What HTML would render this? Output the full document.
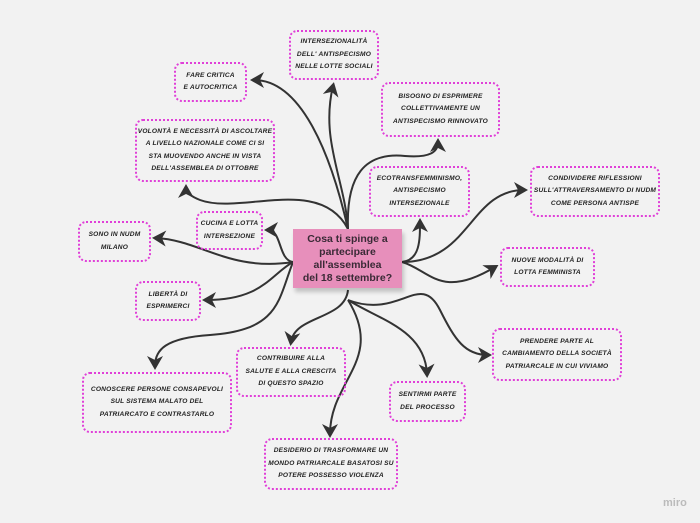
<!DOCTYPE html>
<html><head><meta charset="utf-8"><style>
body{margin:0;width:700px;height:523px;background:#f2f2f2;position:relative;overflow:hidden;font-family:"Liberation Sans",sans-serif}
.b{position:absolute;border:2px dotted #e040d8;border-radius:8px;box-sizing:border-box;display:flex;align-items:center;justify-content:center;text-align:center;font-size:6.6px;font-weight:bold;font-style:italic;text-transform:uppercase;color:#222;line-height:12.5px;letter-spacing:0.2px}
.c{position:absolute;left:293px;top:229px;width:109px;height:59px;background:#e78fbb;color:#3a2a36;font-size:10.5px;font-weight:bold;text-align:center;line-height:13px;display:flex;align-items:center;justify-content:center;box-shadow:2px 4px 4px rgba(0,0,0,0.2)}
</style></head><body>
<svg width="700" height="523" style="position:absolute;left:0;top:0">
<defs><marker id="a" markerWidth="8" markerHeight="8" refX="5" refY="4" orient="auto" markerUnits="strokeWidth"><path d="M0,0 L7,4 L0,8 L2,4 Z" fill="#333"/></marker></defs>
<g fill="none" stroke="#333" stroke-width="2" marker-end="url(#a)">
<path d="M348,229 C345,180 320,140 333,86"/>
<path d="M348,229 C330,150 300,80 254,80"/>
<path d="M348,229 C346,175 365,152 405,156 C430,158 438,152 438,142"/>
<path d="M348,229 C320,175 240,215 200,200 C190,196 186,192 186,188"/>
<path d="M293,262 C278,260 282,230 268,230"/>
<path d="M293,262 C230,272 200,240 156,238"/>
<path d="M293,262 C270,275 262,300 206,300"/>
<path d="M293,262 C278,300 280,330 210,335 C165,338 155,350 155,366"/>
<path d="M402,262 C420,260 420,240 420,222"/>
<path d="M402,262 C470,262 470,190 524,190"/>
<path d="M402,262 C430,270 440,300 495,267"/>
<path d="M348,290 C345,320 295,315 291,342"/>
<path d="M348,300 C380,320 425,330 427,374"/>
<path d="M348,300 C400,320 420,270 440,310 C455,340 465,355 488,355"/>
<path d="M348,300 C385,360 330,380 330,434"/>
</g></svg>
<div class="c">Cosa ti spinge a<br>partecipare<br>all'assemblea<br>del 18 settembre?</div>
<div class="b" style="left:289px;top:30px;width:90px;height:50px">intersezionalità<br>dell' antispecismo<br>nelle lotte sociali</div>
<div class="b" style="left:174px;top:62px;width:73px;height:40px">fare critica<br>e autocritica</div>
<div class="b" style="left:381px;top:82px;width:119px;height:55px">bisogno di esprimere<br>collettivamente un<br>antispecismo rinnovato</div>
<div class="b" style="left:135px;top:119px;width:140px;height:63px">volontà e necessità di ascoltare<br>a livello nazionale come ci si<br>sta muovendo anche in vista<br>dell'assemblea di ottobre</div>
<div class="b" style="left:369px;top:166px;width:101px;height:51px">ecotransfemminismo,<br>antispecismo<br>intersezionale</div>
<div class="b" style="left:530px;top:166px;width:130px;height:51px">Condividere riflessioni<br>sull'attraversamento di nudm<br>come persona antispe</div>
<div class="b" style="left:196px;top:211px;width:67px;height:39px">Cucina e lotta<br>intersezione</div>
<div class="b" style="left:78px;top:221px;width:73px;height:41px">Sono in NUDM<br>Milano</div>
<div class="b" style="left:500px;top:247px;width:95px;height:40px">nuove modalità di<br>lotta femminista</div>
<div class="b" style="left:135px;top:281px;width:66px;height:40px">libertà di<br>esprimerci</div>
<div class="b" style="left:236px;top:347px;width:110px;height:50px">contribuire alla<br>salute e alla crescita<br>di questo spazio</div>
<div class="b" style="left:492px;top:328px;width:130px;height:53px">prendere parte al<br>cambiamento della società<br>patriarcale in cui viviamo</div>
<div class="b" style="left:82px;top:372px;width:150px;height:61px">conoscere persone consapevoli<br>sul sistema malato del<br>patriarcato e contrastarlo</div>
<div class="b" style="left:389px;top:381px;width:77px;height:41px">sentirmi parte<br>del processo</div>
<div class="b" style="left:264px;top:438px;width:134px;height:52px">Desiderio di trasformare un<br>mondo patriarcale basatosi su<br>potere possesso violenza</div>
<div style="position:absolute;left:663px;top:497px;font-size:11px;color:#bbb;font-weight:bold">miro</div>
</body></html>
